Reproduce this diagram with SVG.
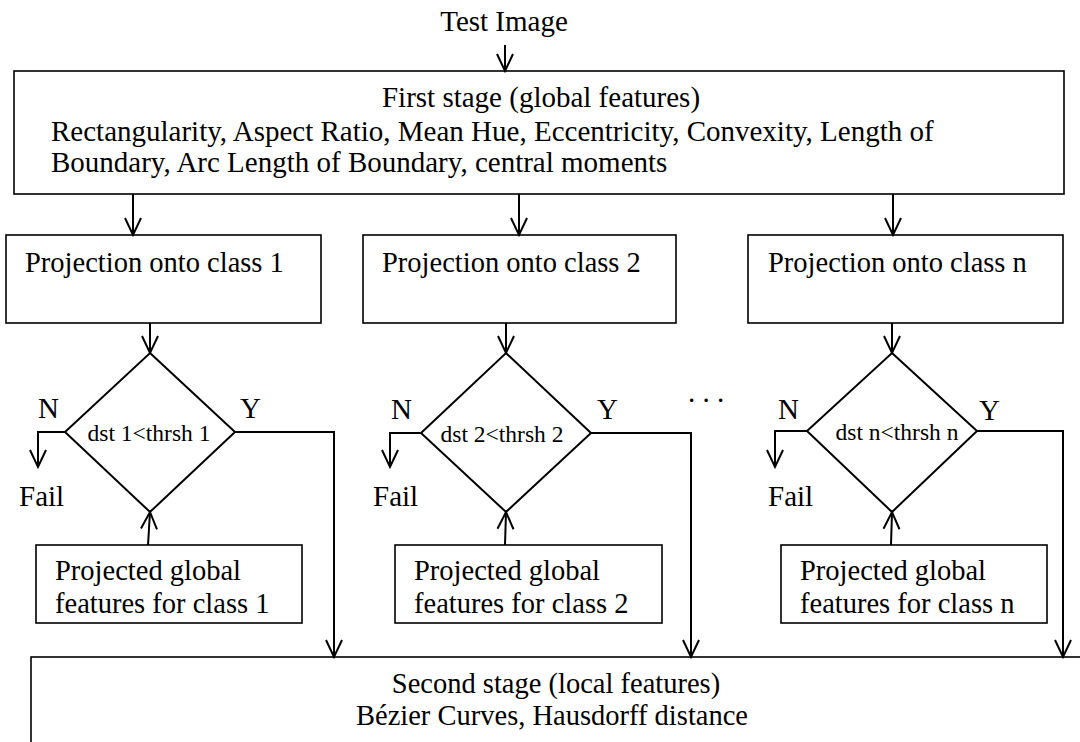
<svg xmlns="http://www.w3.org/2000/svg" width="1080" height="742" viewBox="0 0 1080 742">
<defs>
<marker id="ah" markerUnits="userSpaceOnUse" markerWidth="20" markerHeight="20" orient="auto" overflow="visible" refX="0" refY="0">
<path d="M-17,-8 L0,0 L-17,8" fill="none" stroke="#000" stroke-width="2"/>
</marker>
<style>
text{font-family:"Liberation Serif","Times New Roman",serif;fill:#000}
.t{font-size:29px}
.p{font-size:28.5px}
.s{font-size:23.5px}
.box{fill:#fff;stroke:#000;stroke-width:1.6}
.dia{fill:#fff;stroke:#000;stroke-width:2}
.c{fill:none;stroke:#000;stroke-width:2;marker-end:url(#ah)}
</style>
</defs>
<rect width="1080" height="742" fill="#fff"/>
<text class="t" x="504" y="31" text-anchor="middle">Test Image</text>

<g id="first-stage">
<rect class="box" x="14" y="71" width="1050" height="123"/>
<text class="t" x="541" y="107" text-anchor="middle">First stage (global features)</text>
<text class="t" x="51" y="141">Rectangularity, Aspect Ratio, Mean Hue, Eccentricity, Convexity, Length of</text>
<text class="t" x="51" y="172">Boundary, Arc Length of Boundary, central moments</text>
</g>

<g id="proj1">
<rect class="box" x="6" y="235" width="315" height="88"/>
<text class="p" x="25" y="272">Projection onto class 1</text>
</g>
<g id="proj2">
<rect class="box" x="363" y="235" width="313" height="88"/>
<text class="p" x="382" y="272">Projection onto class 2</text>
</g>
<g id="projn">
<rect class="box" x="748" y="235" width="315" height="88"/>
<text class="p" x="768" y="272">Projection onto class n</text>
</g>

<g id="dec1">
<polygon class="dia" points="150,353 235,432 150,512 65,432"/>
<text class="s" x="149" y="441" text-anchor="middle">dst 1&lt;thrsh 1</text>
</g>
<g id="dec2">
<polygon class="dia" points="506,353 591,433 506,512 421,433"/>
<text class="s" x="502" y="442" text-anchor="middle">dst 2&lt;thrsh 2</text>
</g>
<g id="decn">
<polygon class="dia" points="892,353 977,431 892,512 807,431"/>
<text class="s" x="897" y="440" text-anchor="middle">dst n&lt;thrsh n</text>
</g>

<g id="pg1">
<rect class="box" x="36" y="545" width="266" height="78"/>
<text class="p" x="55" y="580">Projected global</text>
<text class="p" x="55" y="613">features for class 1</text>
</g>
<g id="pg2">
<rect class="box" x="395" y="545" width="267" height="78"/>
<text class="p" x="414" y="580">Projected global</text>
<text class="p" x="414" y="613">features for class 2</text>
</g>
<g id="pgn">
<rect class="box" x="781" y="545" width="266" height="78"/>
<text class="p" x="800" y="580">Projected global</text>
<text class="p" x="800" y="613">features for class n</text>
</g>

<g id="second-stage">
<rect class="box" x="31" y="657" width="1100" height="120"/>
<text class="p" x="556" y="693" text-anchor="middle">Second stage (local features)</text>
<text class="p" x="552" y="725" text-anchor="middle">Bézier Curves, Hausdorff distance</text>
</g>

<g id="labels">
<text class="t" x="38" y="418">N</text>
<text class="t" x="240" y="418">Y</text>
<text class="t" x="19" y="506">Fail</text>
<text class="t" x="391" y="419">N</text>
<text class="t" x="597" y="419">Y</text>
<text class="t" x="373" y="506">Fail</text>
<text class="t" x="778" y="419">N</text>
<text class="t" x="979" y="420">Y</text>
<text class="t" x="768" y="506">Fail</text>
<text class="t" x="688" y="402">. . .</text>
</g>

<g id="connectors">
<line class="c" x1="505" y1="45" x2="505" y2="71"/>
<line class="c" x1="133" y1="194" x2="133" y2="235"/>
<line class="c" x1="519" y1="194" x2="519" y2="235"/>
<line class="c" x1="893" y1="194" x2="893" y2="235"/>
<line class="c" x1="150" y1="323" x2="150" y2="353"/>
<line class="c" x1="506" y1="323" x2="506" y2="353"/>
<line class="c" x1="892" y1="323" x2="892" y2="353"/>
<polyline class="c" points="65,432 38,432 38,467"/>
<polyline class="c" points="421,433 390,433 390,467"/>
<polyline class="c" points="807,431 775,431 775,467"/>
<polyline class="c" points="235,432 334,432 334,657"/>
<polyline class="c" points="591,433 691,433 691,657"/>
<polyline class="c" points="977,431 1063,431 1063,657"/>
<line class="c" x1="148" y1="545" x2="150" y2="512"/>
<line class="c" x1="505" y1="545" x2="506" y2="512"/>
<line class="c" x1="891" y1="545" x2="892" y2="512"/>
</g>
</svg>
